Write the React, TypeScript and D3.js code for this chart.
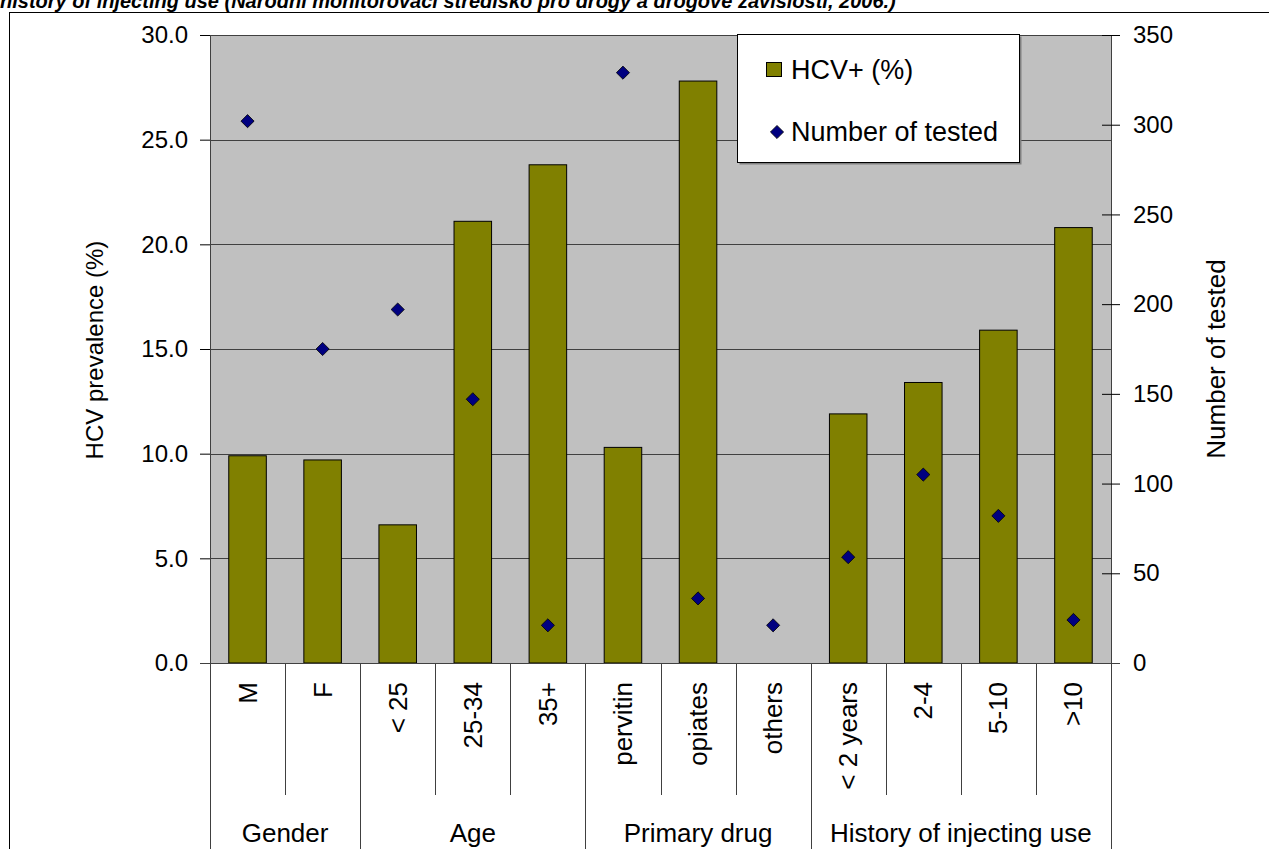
import React, { useEffect, useRef } from 'react';
import * as d3 from 'd3';

// values
const categories = ['M', 'F', '< 25', '25-34', '35+', 'pervitin', 'opiates', 'others', '< 2 years', '2-4', '5-10', '>10'];
const hcvPositive = [9.9, 9.7, 6.6, 21.1, 23.8, 10.3, 27.8, 0, 11.9, 13.4, 15.9, 20.8];
const numberTested = [302, 175, 197, 147, 21, 329, 36, 21, 59, 105, 82, 24];
const groups = [
  { name: 'Gender', from: 0, to: 1 },
  { name: 'Age', from: 2, to: 4 },
  { name: 'Primary drug', from: 5, to: 7 },
  { name: 'History of injecting use', from: 8, to: 11 },
];
const leftTicks = [0, 5, 10, 15, 20, 25, 30];
const rightTicks = [0, 50, 100, 150, 200, 250, 300, 350];

const title = 'history of injecting use (Národní monitorovací středisko pro drogy a drogové závislosti, 2006.)';

const W = 1269;
const H = 849;
const FONT = '"Liberation Sans", Arial, sans-serif';

function App() {
  const ref = useRef<SVGSVGElement>(null);

  useEffect(() => {
    const svg = d3.select(ref.current);
    svg.selectAll('*').remove();

    const left = 210, right = 1111, top = 35, bottom = 663;

    const x = d3.scaleBand().domain(categories).range([left, right]).paddingInner(0).paddingOuter(0);
    const yL = d3.scaleLinear().domain([0, 30]).range([bottom, top]);
    const yR = d3.scaleLinear().domain([0, 350]).range([bottom, top]);

    // caption, clipped at the top like in the source
    svg.append('text')
      .attr('x', 0).attr('y', 8)
      .attr('font-family', FONT).attr('font-style', 'italic').attr('font-weight', 'bold').attr('font-size', 20)
      .text(title);

    // outer chart border
    svg.append('rect')
      .attr('x', 9.5).attr('y', 12.5).attr('width', W).attr('height', H)
      .attr('fill', 'white').attr('stroke', 'black');

    // plot area
    svg.append('rect')
      .attr('x', left).attr('y', top).attr('width', right - left).attr('height', bottom - top)
      .attr('fill', '#c0c0c0');

    // gridlines
    svg.selectAll('.grid').data(leftTicks.slice(1)).enter().append('line')
      .attr('x1', left).attr('x2', right)
      .attr('y1', d => Math.round(yL(d)) + 0.5).attr('y2', d => Math.round(yL(d)) + 0.5)
      .attr('stroke', '#404040');

    // bars
    const bw = x.bandwidth() / 2;
    svg.selectAll('.bar').data(hcvPositive).enter().append('rect')
      .attr('x', (d, i) => x(categories[i])! + bw / 2)
      .attr('y', d => yL(d))
      .attr('width', bw)
      .attr('height', d => bottom - yL(d))
      .attr('fill', d => d > 0 ? '#808000' : 'none')
      .attr('stroke', d => d > 0 ? '#000' : 'none');

    // diamonds
    const diamond = d3.symbol().type(d3.symbolDiamond2).size(110);
    svg.selectAll('.pt').data(numberTested).enter().append('path')
      .attr('d', diamond)
      .attr('transform', (d, i) => `translate(${x(categories[i])! + x.bandwidth() / 2},${yR(d)})`)
      .attr('fill', '#000080').attr('stroke', '#000').attr('stroke-width', 0.8);

    // left axis
    const axL = svg.append('g').attr('transform', `translate(${left},0)`)
      .call(d3.axisLeft(yL).tickValues(leftTicks).tickSize(10).tickPadding(12).tickFormat(d3.format('.1f')));
    axL.select('.domain').attr('stroke', '#404040');
    axL.selectAll('line').attr('stroke', '#000');
    axL.selectAll('text').attr('font-family', FONT).attr('font-size', 24).attr('fill', '#000');

    // right axis
    const axR = svg.append('g').attr('transform', `translate(${right},0)`)
      .call(d3.axisRight(yR).tickValues(rightTicks).tickSize(9).tickPadding(13));
    axR.select('.domain').attr('stroke', '#404040');
    axR.selectAll('.tick line').attr('x1', -9).attr('stroke', '#000');
    axR.selectAll('text').attr('font-family', FONT).attr('font-size', 24).attr('fill', '#000');

    // x axis line
    svg.append('line').attr('x1', 200).attr('x2', 1120).attr('y1', bottom + 0.5).attr('y2', bottom + 0.5)
      .attr('stroke', '#404040');

    // axis titles
    svg.append('text')
      .attr('transform', `translate(103,350) rotate(-90)`)
      .attr('text-anchor', 'middle').attr('font-family', FONT).attr('font-size', 24)
      .text('HCV prevalence (%)');
    svg.append('text')
      .attr('transform', `translate(1225,359) rotate(-90)`)
      .attr('text-anchor', 'middle').attr('font-family', FONT).attr('font-size', 26)
      .text('Number of tested');

    // category separators
    const groupEdges = new Set<number>();
    groups.forEach(g => { groupEdges.add(g.from); groupEdges.add(g.to + 1); });
    d3.range(categories.length + 1).forEach(i => {
      const xx = Math.round(left + i * x.step()) + 0.5;
      svg.append('line')
        .attr('x1', xx).attr('x2', xx)
        .attr('y1', bottom).attr('y2', groupEdges.has(i) ? H : 795)
        .attr('stroke', '#404040');
    });

    // category labels
    svg.selectAll('.cat').data(categories).enter().append('text')
      .attr('transform', d => `translate(${x(d)! + x.bandwidth() / 2 + 9},682) rotate(-90)`)
      .attr('text-anchor', 'end').attr('font-family', FONT).attr('font-size', 26)
      .text(d => d);

    // group labels
    svg.selectAll('.grp').data(groups).enter().append('text')
      .attr('x', g => (x(categories[g.from])! + x(categories[g.to])! + x.bandwidth()) / 2)
      .attr('y', 842)
      .attr('text-anchor', 'middle').attr('font-family', FONT).attr('font-size', 26)
      .text(g => g.name);

    // legend
    const lg = svg.append('g');
    lg.append('rect').attr('x', 739.5).attr('y', 36.5).attr('width', 282).attr('height', 128).attr('fill', '#808080');
    lg.append('rect').attr('x', 737.5).attr('y', 34.5).attr('width', 282).attr('height', 128)
      .attr('fill', 'white').attr('stroke', '#000');
    lg.append('rect').attr('x', 766.5).attr('y', 62.5).attr('width', 15).attr('height', 14)
      .attr('fill', '#808000').attr('stroke', '#000');
    lg.append('text').attr('x', 791).attr('y', 79).attr('font-family', FONT).attr('font-size', 27).text('HCV+ (%)');
    lg.append('path').attr('d', diamond).attr('transform', 'translate(777,132)')
      .attr('fill', '#000080').attr('stroke', '#000').attr('stroke-width', 0.8);
    lg.append('text').attr('x', 791).attr('y', 141).attr('font-family', FONT).attr('font-size', 27).text('Number of tested');
  }, []);

  return (
    <div style={{ position: 'absolute', left: 0, top: 0 }}>
      <svg ref={ref} width={W} height={H} style={{ display: 'block' }}></svg>
    </div>
  );
}

export default App;
